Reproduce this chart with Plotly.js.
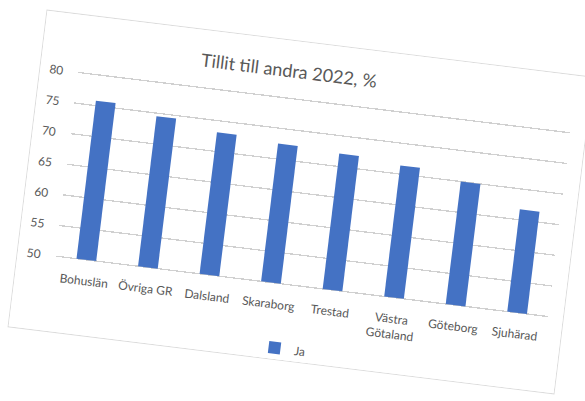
<!DOCTYPE html>
<html>
<head>
<meta charset="utf-8">
<script src="https://cdn.plot.ly/plotly-3.0.1.min.js"></script>
<style>
  html, body { margin: 0; padding: 0; background: #ffffff; width: 585px; height: 401px; overflow: hidden; }
  #frame {
    position: absolute;
    left: 25px; top: 42px;
    width: 551px; height: 320px;
    border: 1px solid #dcdcdc;
    box-sizing: border-box;
    transform: rotate(7deg);
    transform-origin: 50% 50%;
    background: #ffffff;
  }
  #chart { width: 549px; height: 318px; }
</style>
</head>
<body>
<div id="frame"><div id="chart"></div></div>
<script>
const categories = ["Bohuslän", "Övriga GR", "Dalsland", "Skaraborg", "Trestad", "Västra Götaland", "Göteborg", "Sjuhärad"];
const tickLabels = ["Bohuslän", "Övriga GR", "Dalsland", "Skaraborg", "Trestad", "Västra<br>Götaland", "Göteborg", "Sjuhärad"];
const values = [75.8, 74.5, 73.1, 72.5, 72.1, 71.4, 70.0, 66.7];
const seriesName = "Ja";
const yTicks = [50, 55, 60, 65, 70, 75, 80];
const chartTitle = "Tillit till andra 2022, %";

const fontFam = "Lato, 'Open Sans', sans-serif";

const data = [{
  type: "bar",
  x: categories,
  y: values,
  base: 50,
  name: seriesName,
  marker: { color: "#4472C4" },
  hoverinfo: "x+y"
}];
// bars drawn from the 50 baseline: heights are value - 50
data[0].y = values.map(v => v - 50);

const layout = {
  width: 549,
  height: 318,
  paper_bgcolor: "#ffffff",
  plot_bgcolor: "#ffffff",
  margin: { l: 38, r: 15, t: 55, b: 73 },
  font: { family: fontFam, color: "#595959", size: 12 },
  title: {
    text: chartTitle,
    font: { family: fontFam, size: 18, color: "#595959" },
    xref: "container", x: 0.45, xanchor: "center",
    yref: "container", y: 0.905, yanchor: "middle"
  },
  bargap: 0.68,
  showlegend: true,
  legend: {
    orientation: "h",
    xref: "container", x: 0.5, xanchor: "center",
    yref: "container", y: 0.035, yanchor: "middle",
    font: { family: fontFam, size: 12, color: "#595959" },
    itemwidth: 30
  },
  xaxis: {
    tickmode: "array",
    tickvals: categories,
    ticktext: tickLabels,
    showgrid: false,
    showline: false,
    zeroline: false,
    ticks: "",
    ticklabelstandoff: 10,
    tickfont: { family: fontFam, size: 12, color: "#595959" }
  },
  yaxis: {
    range: [49.6, 80.4],
    tickmode: "array",
    tickvals: yTicks,
    ticktext: yTicks.map(String),
    showgrid: true,
    gridcolor: "#d0d0d0",
    gridwidth: 1.3,
    zeroline: false,
    showline: false,
    ticks: "",
    ticklabelstandoff: 14,
    tickfont: { family: fontFam, size: 12, color: "#595959" }
  }
};

Plotly.newPlot("chart", data, layout, { displayModeBar: false, staticPlot: true });
</script>
</body>
</html>
